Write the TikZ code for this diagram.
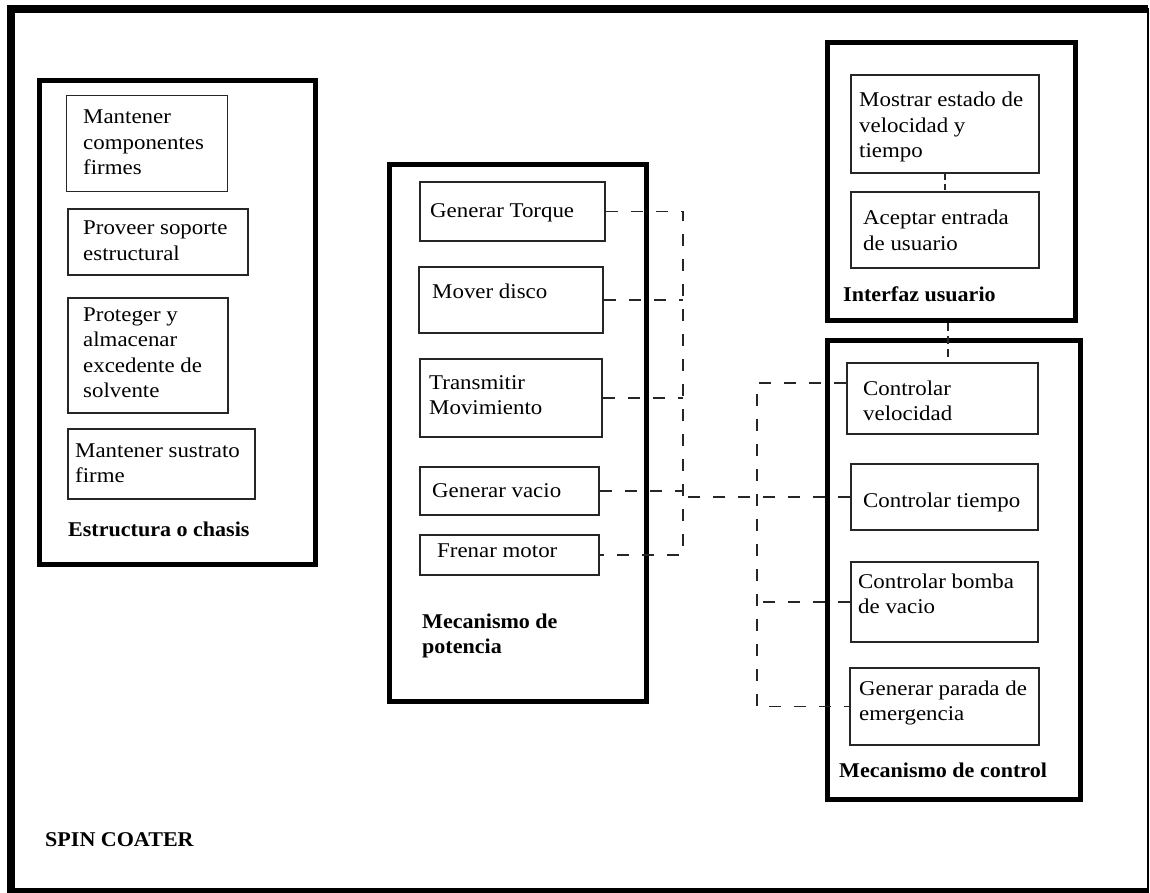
\documentclass[tikz,border=0pt]{standalone}
\usepackage{fontspec}
\setmainfont{Liberation Serif}[FakeStretch=1.09, BoldFeatures={FakeStretch=1.05}]
\begin{document}
\begin{tikzpicture}[x=1pt,y=-1pt,
  every node/.style={font=\fontsize{21}{25.5}\selectfont},
  sbox/.style={draw=black!85, line width=1.5pt, inner sep=0pt, rectangle},
  bbox/.style={draw=black, line width=5pt, inner sep=0pt, rectangle},
  txt/.style={anchor=base west, align=left, inner sep=0pt},
  ttl/.style={anchor=base west, align=left, inner sep=0pt, font=\fontsize{21}{25.5}\selectfont\bfseries},
  dline/.style={draw=black!85, line width=1.5pt, dash pattern=on 12pt off 13pt}]
\useasboundingbox (0,0) rectangle (1150,893);
% outer frame
\draw[line width=2pt] (11,9) rectangle (1147.5,890);
\draw[line width=8pt, line join=miter] (11,892) -- (11,9) -- (1148,9);
\draw[line width=5pt] (7,890) -- (1148.5,890);
\node[ttl] (spin) at (45,846) {SPIN COATER};

% Estructura o chasis (multi-line text nodes are placed at the baseline of their last line)
\node[bbox, minimum width=276, minimum height=484] (E) at (177.5,322.5) {};
\node[sbox, minimum width=161, minimum height=96] (E1) at (147.2,143.7) {};
\node[sbox, minimum width=180, minimum height=66] (E2) at (158,242) {};
\node[sbox, minimum width=160, minimum height=115] (E3) at (148,355.5) {};
\node[sbox, minimum width=187, minimum height=70] (E4) at (161.5,464) {};
\node[txt] (E1t) at (83,175) {Mantener\\componentes\\firmes};
\node[txt] (E2t) at (83,260.5) {Proveer soporte\\estructural};
\node[txt] (E3t) at (83,397.5) {Proteger y\\almacenar\\excedente de\\solvente};
\node[txt] (E4t) at (75,482.5) {Mantener sustrato\\firme};
\node[ttl] (Et) at (68,536) {Estructura o chasis};

% Mecanismo de potencia
\node[bbox, minimum width=257.5, minimum height=536] (P) at (517.75,433) {};
\node[sbox, minimum width=185, minimum height=59] (P1) at (512.5,211.5) {};
\node[sbox, minimum width=184, minimum height=66] (P2) at (511,300) {};
\node[sbox, minimum width=182, minimum height=78] (P3) at (511,398) {};
\node[sbox, minimum width=179, minimum height=48] (P4) at (509.5,491) {};
\node[sbox, minimum width=179, minimum height=40] (P5) at (509.5,555) {};
\node[txt] (P1t) at (430,218) {Generar Torque};
\node[txt] (P2t) at (432,298) {Mover disco};
\node[txt] (P3t) at (429,414.5) {Transmitir\\Movimiento};
\node[txt] (P4t) at (432,497) {Generar vacio};
\node[txt] (P5t) at (437,557) {Frenar motor};
\node[ttl] (Pt) at (422,653.5) {Mecanismo de\\potencia};

% Interfaz usuario
\node[bbox, minimum width=248, minimum height=277.5] (IU) at (951.5,181.75) {};
\node[sbox, minimum width=188, minimum height=98] (I1) at (945,124) {};
\node[sbox, minimum width=188, minimum height=76] (I2) at (945,230) {};
\node[txt] (I1t) at (859,158) {Mostrar estado de\\velocidad y\\tiempo};
\node[txt] (I2t) at (863,250.5) {Aceptar entrada\\de usuario};
\node[ttl] (IUt) at (843,301) {Interfaz usuario};

% Mecanismo de control
\node[bbox, minimum width=253, minimum height=459] (MC) at (954,570) {};
\node[sbox, minimum width=191, minimum height=71] (C1) at (942.5,398.5) {};
\node[sbox, minimum width=187, minimum height=66] (C2) at (944.5,497) {};
\node[sbox, minimum width=187, minimum height=80] (C3) at (944.5,602) {};
\node[sbox, minimum width=189, minimum height=77] (C4) at (944.5,706.5) {};
\node[txt] (C1t) at (863,420.5) {Controlar\\velocidad};
\node[txt] (C2t) at (863,507) {Controlar tiempo};
\node[txt] (C3t) at (858,613.5) {Controlar bomba\\de vacio};
\node[txt] (C4t) at (859,720.5) {Generar parada de\\emergencia};
\node[ttl] (MCt) at (839,777) {Mecanismo de control};

% connectors
\coordinate (b1) at (683,0);
\coordinate (b2) at (757,0);
\draw[dline] (P1.east) -- (P1.east -| b1) -- (P5.east -| b1) -- (P5.east);
\draw[dline] (P2.east) -- (P2.east -| b1);
\draw[dline] (P3.east) -- (P3.east -| b1);
\draw[dline] (P4.east) -- (P4.east -| b1);
\draw[dline] (C2.west) -- (C2.west -| b1);
\draw[dline] ([yshift=15.5pt]C1.west) -- ([yshift=15.5pt]C1.west -| b2) -- (C4.west -| b2) -- (C4.west);
\draw[dline] (C3.west) -- (C3.west -| b2);
\draw[dline, dash pattern=on 6pt off 4pt] (I1.south) -- (I2.north);
\draw[dline, dash pattern=on 8pt off 5pt] ([xshift=3pt]IU.south -| I1.south) -- ([xshift=3pt]C1.north -| I1.south);
\end{tikzpicture}
\end{document}
